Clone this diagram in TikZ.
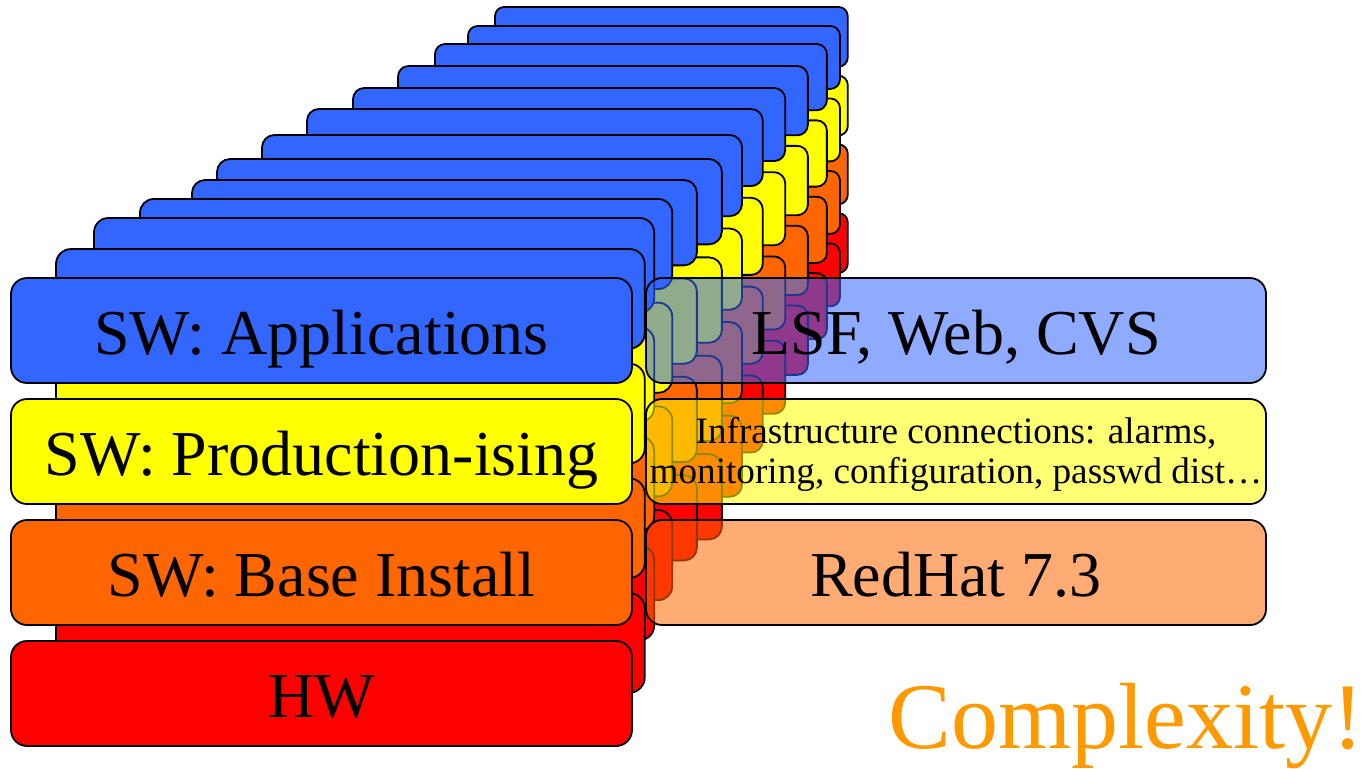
\documentclass[tikz,border=0pt]{standalone}
\usepackage{fontspec}
\setmainfont{Liberation Serif}

\definecolor{swblue}{HTML}{3366FF}
\definecolor{swyellow}{HTML}{FFFF00}
\definecolor{sworange}{HTML}{FF6600}
\definecolor{swred}{HTML}{FF0000}
\definecolor{complexorange}{HTML}{FF9900}

\tikzset{
  layer/.style={draw, rounded corners=8pt, line width=0.9pt, inner sep=0pt,
    minimum width=310.5pt, minimum height=52.5pt,
    text height=24pt, text depth=0pt,
    font=\fontsize{32}{36}\selectfont},
  service/.style={layer, minimum width=310pt, fill opacity=0.55, text opacity=1}
}

\begin{document}
\begin{tikzpicture}[x=0.5pt,y=-0.5pt]
\useasboundingbox (0,0) rectangle (1368,768);

% Rack of boxes, furthest one first
\foreach \px/\py/\s in {495/7/0.568, 468/26/0.599, 435/44/0.631, 398/66/0.660,
    353/88/0.696, 307/109/0.734, 262/135/0.773, 217/159/0.813, 192/180/0.813,
    140/199/0.857, 94/218/0.902, 56/249/0.948} {
  \begin{scope}[shift={(\px,\py)},scale=\s]
    \foreach \row/\col in {0/swblue,1/swyellow,2/sworange,3/swred}
      \draw[fill=\col, rounded corners=\s*8pt, line width=0.9pt]
        (0,121*\row) rectangle (621,121*\row+105);
  \end{scope}
}

% Front box, one layer per row
\node[layer, fill=swblue] (apps) at (321.5,330.5) {SW: Applications};
\node[layer, fill=swyellow] (prod) at (321.5,451.5) {SW: Production-ising};
\node[layer, fill=sworange] (base) at (321.5,572.5) {SW: Base Install};
\node[layer, fill=swred] (hw) at (321.5,693.5) {HW};

% What goes into each layer
\node[service, fill=swblue] (lsf) at (956,330.5) {LSF, Web, CVS};
\node[service, fill=swyellow, align=center, text height=31.5pt,
  font=\fontsize{18.6}{20}\selectfont]
  (infra) at (956,451.5) {Infrastructure connections: alarms,\\monitoring, configuration, passwd dist…};
\node[service, fill=sworange] (redhat) at (956,572.5) {RedHat 7.3};

\node[text=complexorange, font=\fontsize{47}{50}\selectfont, anchor=base east,
  inner sep=0pt] (complexity) at (1364,748) {Complexity!};

\end{tikzpicture}
\end{document}
